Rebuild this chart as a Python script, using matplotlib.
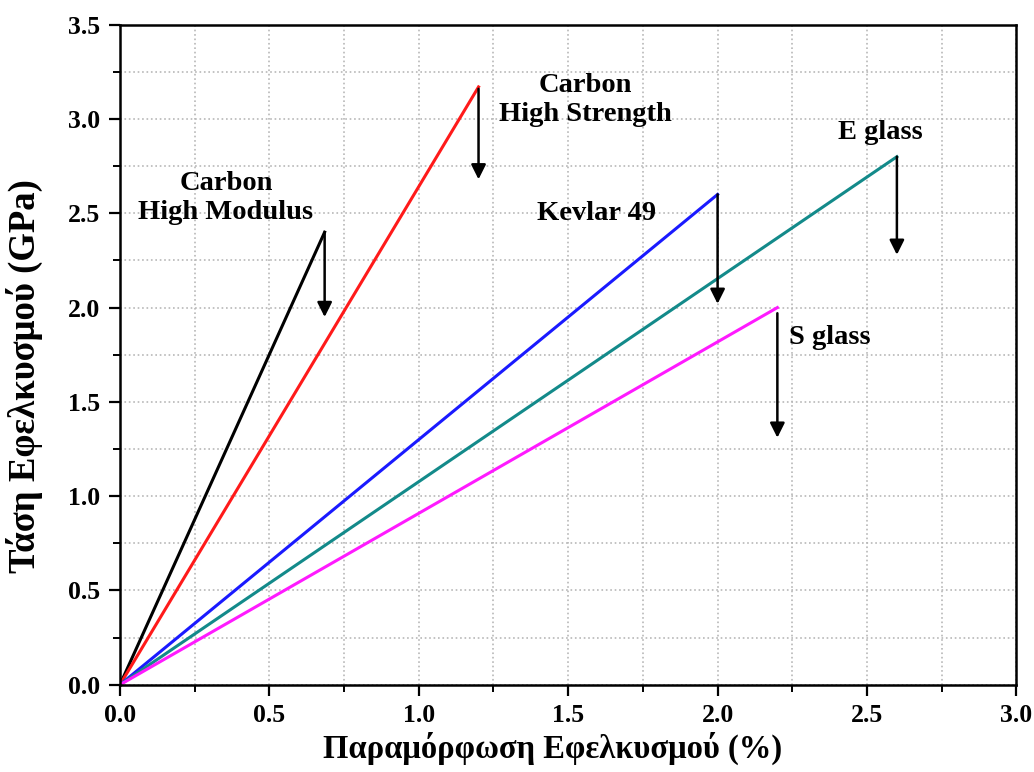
import matplotlib.pyplot as plt
from matplotlib.ticker import MultipleLocator

plt.rcParams['font.family'] = ['Liberation Serif', 'DejaVu Serif']
plt.rcParams['font.weight'] = 'bold'

# failure points (strain %, stress GPa)
names = ["Carbon\nHigh Modulus", "Carbon\nHigh Strength", "Kevlar 49", "E glass", "S glass"]
strain_end = [0.685, 1.20, 2.00, 2.60, 2.20]
stress_end = [2.40, 3.17, 2.60, 2.80, 2.00]
colors = ["black", "#ff1a1a", "#1a1aff", "#138a8a", "#ff1aff"]

# arrows below each failure point
arrow_top = [2.40, 3.16, 2.60, 2.80, 1.97]
arrow_bottom = [1.95, 2.68, 2.02, 2.28, 1.31]

# label positions
label_x = [0.355, 1.557, 1.594, 2.544, 2.377]
label_y = [2.58, 3.10, 2.50, 2.93, 1.84]

fig, ax = plt.subplots(figsize=(10.34, 7.72), dpi=100)
fig.subplots_adjust(left=0.116, right=0.983, bottom=0.113, top=0.968)

for xe, ye, c in zip(strain_end, stress_end, colors):
    ax.plot([0, xe], [0, ye], color=c, lw=2.2)

for xe, yt, yb in zip(strain_end, arrow_top, arrow_bottom):
    ax.annotate("", xy=(xe, yb), xytext=(xe, yt),
                arrowprops=dict(arrowstyle="-|>", color="black", lw=1.8,
                                mutation_scale=22, shrinkA=0, shrinkB=0))

for name, lx, ly in zip(names, label_x, label_y):
    ax.text(lx, ly, name, ha="center", va="center", fontsize=20.5,
            fontweight="bold", linespacing=1.2)

ax.set_xlim(0, 3.0)
ax.set_ylim(0, 3.5)
ax.xaxis.set_major_locator(MultipleLocator(0.5))
ax.xaxis.set_minor_locator(MultipleLocator(0.25))
ax.yaxis.set_major_locator(MultipleLocator(0.5))
ax.yaxis.set_minor_locator(MultipleLocator(0.25))
ax.xaxis.set_major_formatter(plt.FormatStrFormatter('%.1f'))
ax.yaxis.set_major_formatter(plt.FormatStrFormatter('%.1f'))
ax.tick_params(which="major", direction="out", length=8, width=1.6, labelsize=18.5, pad=6)
ax.tick_params(which="minor", direction="out", length=5, width=1.4)
ax.grid(True, which="both", linestyle=":", color="#b8b8b8", lw=1.2)
for s in ax.spines.values():
    s.set_linewidth(1.8)

ax.set_xlabel("Παραμόρφωση Εφελκυσμού (%)", fontsize=23.5, fontweight="bold")
ax.set_ylabel("Τάση Εφελκυσμού (GPa)", fontsize=26.5, fontweight="bold")
ax.xaxis.set_label_coords(0.483, -0.071)
ax.yaxis.set_label_coords(-0.086, 0.468)

plt.savefig("out.png")
